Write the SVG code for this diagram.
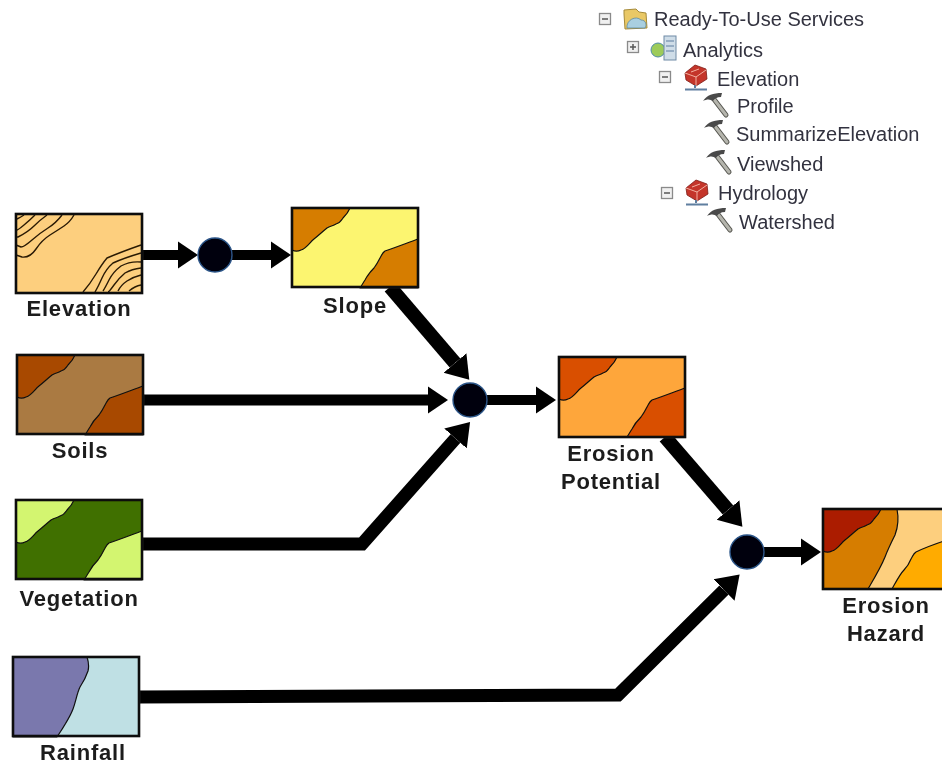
<svg xmlns="http://www.w3.org/2000/svg" width="942" height="765" viewBox="0 0 942 765">
<style>
.map{stroke:#111;stroke-width:2.6;fill:none}
.edge{stroke:#111;stroke-width:1.2;stroke-linejoin:round}
.cont{stroke:#2a1a05;stroke-width:1.4;fill:none;stroke-linejoin:round}
.lab{font-family:"Liberation Sans",Arial,sans-serif;font-weight:700;font-size:22px;letter-spacing:0.8px;fill:#1c1c1c;text-anchor:middle}
.tree{font-family:"Liberation Sans",Arial,sans-serif;font-size:20px;fill:#33333f}
.con{fill:none;stroke:#050505;stroke-linejoin:miter}
.w10{stroke-width:10}.w11{stroke-width:11}.w13{stroke-width:13}.w14{stroke-width:14}
.dot{fill:#00000c;stroke:#2b5488;stroke-width:1.4}
.box{fill:#f0f0f0;stroke:#8a8a8a;stroke-width:1.3}
.sign{stroke:#555;stroke-width:1.5;fill:none}
</style>
<defs>
<filter id="soft" filterUnits="userSpaceOnUse" x="0" y="0" width="942" height="765"><feGaussianBlur stdDeviation="0.5"/></filter>
<marker id="head" markerUnits="userSpaceOnUse" markerWidth="24" markerHeight="30" refX="0" refY="15" orient="auto"><path d="M0,1.500 L20,15 L0,28.500Z" fill="#050505"/></marker>
<marker id="head-big" markerUnits="userSpaceOnUse" markerWidth="26" markerHeight="34" refX="0" refY="17" orient="auto"><path d="M0,2 L22,17 L0,32Z" fill="#050505"/></marker>
<path id="tl" class="edge" d="M58,0 C56,5 54,7 51,10 C49,13 48,15 44,16 C41,18 38,18 35,20 C30,24 26,28 22,31 C18,34 15,40 9,42 C5,44 2,43 0,42 L0,0Z"/>
<path id="br" class="edge" d="M126,31 C115,35 105,39 93,43 C90,45 90,47 88,50 C86,54 85,56 82,60 C78,64 75,68 73,72 C71,75 70,77 68,80 L126,80Z"/>
<g id="minus"><rect class="box" x="-5.500" y="-5.500" width="11" height="11"/><path class="sign" d="M-3,0H3"/></g>
<g id="hammer">
<path d="M10,5 L23,22" stroke="#55554f" stroke-width="5" stroke-linecap="round" fill="none"/>
<path d="M10,5 L23,22" stroke="#b5b5ad" stroke-width="3" stroke-linecap="round" fill="none"/>
<path d="M0,8 C4,2 10,0 19,0 L18,4 C14,4 11,6 10,8 C7,6 4,6 0,8Z" fill="#4a4a4a"/>
</g>
<g id="toolbox">
<path d="M1,8 L11,0 L22,4 L23,14 L12,21 L2,15Z" fill="#c4352a" stroke="#7d1d18" stroke-width="0.8"/>
<path d="M1,8 L12,12 L22,5 M12,12 V21 M7,7 L15,4" stroke="#f2b0a0" stroke-width="1" fill="none"/>
<path d="M11,20 V23 M1,24.500 H23" stroke="#5f7f9f" stroke-width="2" fill="none"/>
</g>
</defs>

<g filter="url(#soft)">
<g id="connectors">
<path class="con w10" d="M142,255 H178" marker-end="url(#head)"/>
<path class="con w10" d="M232,255 H271" marker-end="url(#head)"/>
<path class="con w14" d="M390,287 L455,363" marker-end="url(#head-big)"/>
<path class="con w11" d="M143,400 H428" marker-end="url(#head)"/>
<path class="con w13" d="M142,544 H362 L455.500,438.500" marker-end="url(#head-big)"/>
<path class="con w10" d="M487,400 H536" marker-end="url(#head)"/>
<path class="con w14" d="M665,437 L728,510" marker-end="url(#head-big)"/>
<path class="con w13" d="M139,697 L618,695 L724,590" marker-end="url(#head-big)"/>
<path class="con w10" d="M764,552 H801" marker-end="url(#head)"/>
</g>

<g id="dot-1"><circle class="dot" cx="215" cy="255" r="17"/></g>
<g id="dot-2"><circle class="dot" cx="470" cy="400" r="17"/></g>
<g id="dot-3"><circle class="dot" cx="747" cy="552" r="17"/></g>

<g id="elevation" transform="translate(16,214)">
<rect width="126" height="79" fill="#fdcf7e"/>
<path class="cont" d="M58,1 Q54,8 48,12 T34,21 T20,35 T6,43 L0,41"/>
<path class="cont" d="M46,1 Q40,9 32,14 T16,26 T5,33 L0,31"/>
<path class="cont" d="M31,1 Q24,6 18,12 T2,23 L0,23"/>
<path class="cont" d="M19,1 Q14,6 8,11 T1,16"/>
<path class="cont" d="M8,1 Q5,3 1,5"/>
<path class="cont" d="M125,31 Q105,38 91,44 Q86,50 80,60 T67,78"/>
<path class="cont" d="M125,39 Q108,44 97,49 Q90,55 86,64 T79,78"/>
<path class="cont" d="M125,48 Q114,47 105,52 Q97,58 93,66 T87,77"/>
<path class="cont" d="M125,54 Q116,55 109,59 Q103,64 98,71 T92,78"/>
<path class="cont" d="M125,61 Q117,63 111,67 T102,77"/>
<path class="cont" d="M125,71 Q119,72 113,77"/>
<rect class="map" width="126" height="79"/>
<text class="lab" x="63" y="102">Elevation</text>
</g>

<g id="slope" transform="translate(292,208)">
<rect width="126" height="79" fill="#fcf56f"/>
<use href="#tl" fill="#d67d00"/><use href="#br" fill="#d67d00"/>
<rect class="map" width="126" height="79"/>
<text class="lab" x="63" y="105">Slope</text>
</g>

<g id="soils" transform="translate(17,355)">
<rect width="126" height="79" fill="#aa7a42"/>
<use href="#tl" fill="#a84a00"/><use href="#br" fill="#a84a00"/>
<rect class="map" width="126" height="79"/>
<text class="lab" x="63" y="103">Soils</text>
</g>

<g id="vegetation" transform="translate(16,500)">
<rect width="126" height="79" fill="#3f7000"/>
<use href="#tl" fill="#d3f56f"/><use href="#br" fill="#d3f56f"/>
<rect class="map" width="126" height="79"/>
<text class="lab" x="63" y="106">Vegetation</text>
</g>

<g id="rainfall" transform="translate(13,657)">
<rect width="126" height="79" fill="#bfe0e4"/>
<path class="edge" fill="#7a78ad" d="M74,0 C76,6 76,10 75,14 C73,20 71,24 67,30 C64,36 63,44 60,52 C57,60 52,68 44,80 L0,80 L0,0Z"/>
<rect class="map" width="126" height="79"/>
<text class="lab" x="70" y="103">Rainfall</text>
</g>

<g id="erosion-potential" transform="translate(559,357)">
<rect width="126" height="80" fill="#fea63a"/>
<use href="#tl" fill="#d94f00"/><use href="#br" fill="#d94f00"/>
<rect class="map" width="126" height="80"/>
<text class="lab" x="52" y="104">Erosion</text>
<text class="lab" x="52" y="132">Potential</text>
</g>

<g id="erosion-hazard" transform="translate(823,509)">
<rect width="130" height="80" fill="#fdcf7e"/>
<path class="edge" fill="#d67d00" d="M74,0 C76,10 75,18 72,26 C68,34 65,40 62,48 C58,58 52,68 45,80 L0,80 L0,0Z"/>
<use href="#tl" fill="#ab1f00"/>
<path class="edge" fill="#ffab00" d="M130,29 C118,33 105,37 93,43 C90,45 90,47 88,50 C86,55 84,58 81,61 C77,65 74,71 69,80 L130,80Z"/>
<rect class="map" width="130" height="80"/>
<text class="lab" x="63" y="104">Erosion</text>
<text class="lab" x="63" y="132">Hazard</text>
</g>

<g id="tree-services">
<use href="#minus" x="605" y="19"/>
<path d="M624,14 L624,10 L636,9 L639,12 L646,13 L647,28 L625,29Z" fill="#e9c866" stroke="#a58a3a" stroke-width="1"/>
<path d="M627,28 C626,20 636,15 641,20 C646,20 647,25 645,28Z" fill="#a9cfe0" stroke="#5f8aa0" stroke-width="0.8"/>
<text class="tree" x="654" y="26">Ready-To-Use Services</text>
</g>
<g id="tree-analytics">
<rect class="box" x="627.500" y="41.500" width="11" height="11"/><path class="sign" d="M630,47H636M633,44V50"/>
<circle cx="658" cy="50" r="7" fill="#9ccb5a" stroke="#4f8aa8"/>
<rect x="664" y="36" width="12" height="24" fill="#cfdde8" stroke="#6f8aa5"/>
<path d="M666,41H674M666,46H674M666,51H674" stroke="#5f7f9f" stroke-width="1.2"/>
<text class="tree" x="683" y="57">Analytics</text>
</g>
<g id="tree-elevation">
<use href="#minus" x="665" y="77"/>
<use href="#toolbox" x="684" y="65"/>
<text class="tree" x="717" y="86">Elevation</text>
</g>
<g id="tree-profile"><use href="#hammer" x="703" y="93"/><text class="tree" x="737" y="113">Profile</text></g>
<g id="tree-summarize"><use href="#hammer" x="704" y="120"/><text class="tree" x="736" y="141">SummarizeElevation</text></g>
<g id="tree-viewshed"><use href="#hammer" x="706" y="150"/><text class="tree" x="737" y="171">Viewshed</text></g>
<g id="tree-hydrology">
<use href="#minus" x="667" y="193"/>
<use href="#toolbox" x="685" y="180"/>
<text class="tree" x="718" y="200">Hydrology</text>
</g>
<g id="tree-watershed"><use href="#hammer" x="707" y="208"/><text class="tree" x="739" y="229">Watershed</text></g>
</g>
</svg>
